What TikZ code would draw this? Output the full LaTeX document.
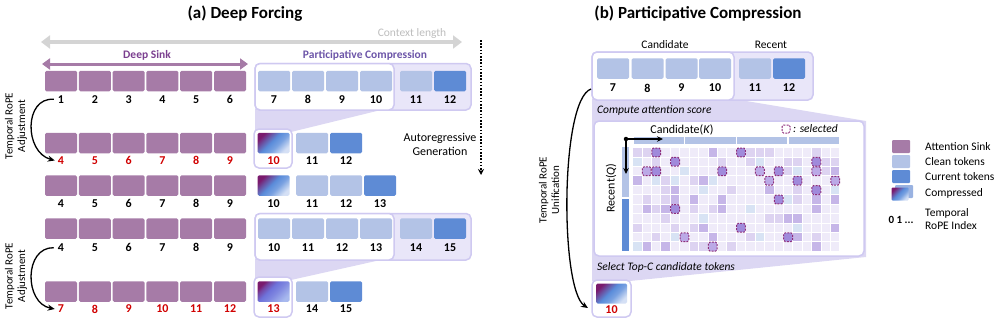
\documentclass[tikz,border=0pt]{standalone}
\usepackage{fontspec}
\setmainfont{Carlito}
\usetikzlibrary{arrows.meta,calc}
\definecolor{sinkc}{HTML}{A67BA7}
\definecolor{cleanc}{HTML}{B3C3E6}
\definecolor{currc}{HTML}{5E8BD5}
\definecolor{panelfill}{HTML}{E9E6F9}
\definecolor{panelborder}{HTML}{CFC9F1}
\definecolor{funnelc}{HTML}{DCD7F3}
\definecolor{redc}{HTML}{D00000}
\definecolor{cpurple}{HTML}{7A1A6D}
\definecolor{cblue}{HTML}{5A8CDA}
\definecolor{clight}{HTML}{D5E0F5}
\definecolor{cblue2}{HTML}{6E72DA}
\definecolor{clight2}{HTML}{A8B9EE}
\definecolor{hmbase}{HTML}{EFEBF9}
\definecolor{hmA}{HTML}{DDD3F1}
\definecolor{hmB}{HTML}{D8E3F4}
\definecolor{hmC}{HTML}{C6B6E8}
\definecolor{selfill}{HTML}{A08ADB}
\definecolor{selfilltwo}{HTML}{BBA9E6}
\definecolor{selborder}{HTML}{8E2E7C}
\definecolor{grayarr}{HTML}{D4D4D4}
\definecolor{graytxt}{HTML}{BDBDBD}
\definecolor{sinktxt}{HTML}{7B3F8F}
\definecolor{pctxt}{HTML}{6C55A8}
\pgfdeclareverticalshading{compsh}{100bp}{color(0bp)=(clight); color(25bp)=(clight); color(42bp)=(cblue!75!clight); color(54bp)=(cblue); color(66bp)=(cblue!45!cpurple); color(75bp)=(cpurple); color(100bp)=(cpurple)}
\pgfdeclareverticalshading{compshtwo}{100bp}{color(0bp)=(clight2); color(25bp)=(clight2); color(45bp)=(cblue2!70!clight2); color(57bp)=(cblue2); color(68bp)=(cblue2!50!cpurple); color(75bp)=(cpurple); color(100bp)=(cpurple)}
\begin{document}
\begin{tikzpicture}[x=1pt,y=-1pt,
  tok/.style={minimum width=32pt, minimum height=20.5pt, inner sep=0pt, rounded corners=1.5pt, draw=none},
  sink/.style={tok, fill=sinkc},
  clean/.style={tok, fill=cleanc},
  curr/.style={tok, fill=currc},
  comp/.style={tok, shading=compsh, shading angle=45},
  comptwo/.style={tok, shading=compshtwo, shading angle=45},
  num/.style={font=\fontsize{12}{13}\selectfont\bfseries, inner sep=0pt},
  rnum/.style={num, text=redc},
  txt/.style={font=\fontsize{11.5}{13.5}\selectfont, inner sep=0pt},
  lgtxt/.style={font=\fontsize{11.5}{13.5}\selectfont, inner sep=0pt, anchor=west},
  panel/.style={draw=panelborder, line width=1.5pt, fill=panelfill, rounded corners=5pt},
  wpanel/.style={draw=panelborder, line width=1.5pt, fill=white, rounded corners=5pt},
  title/.style={font=\fontsize{17}{20}\selectfont\bfseries, inner sep=0pt},
  curvearr/.style={line width=1.3pt, -{Stealth[length=7pt,width=6pt]}},
  selcell/.style={draw=selborder, dashed, dash pattern=on 2pt off 1.2pt, line width=1pt, fill=selfill, rounded corners=1.5pt},
  selcelltwo/.style={selcell, fill=selfilltwo},
  lgbox/.style={minimum width=18pt, minimum height=13pt, inner sep=0pt, rounded corners=1pt, draw=none}
]
\useasboundingbox (0,0) rectangle (996,324);

% ================= (a) Deep Forcing =================
\node[title] (ta) at (245,14) {(a) Deep Forcing};

% context length arrow
\coordinate (ctxL) at (41,42);
\coordinate (ctxR) at (462,42);
\draw[grayarr, line width=4pt, {Triangle[length=9pt,width=13pt]}-{Triangle[length=9pt,width=13pt]}] (ctxL) -- (ctxR);
\node[txt, text=graytxt] (ctxt) at (412,33) {Context length};

% deep sink arrow
\coordinate (dsL) at (42,64);
\coordinate (dsR) at (248,64);
\draw[sinkc, line width=3pt, {Triangle[length=8pt,width=11pt]}-{Triangle[length=8pt,width=11pt]}] (dsL) -- (dsR);
\node[txt, font=\fontsize{11.5}{13}\selectfont\bfseries, text=sinktxt] (dstxt) at (147,55) {Deep Sink};
\node[txt, font=\fontsize{11.5}{13}\selectfont\bfseries, text=pctxt] (pctxt) at (365,55) {Participative Compression};

% autoregressive dotted arrow
\coordinate (arT) at (481,40);
\coordinate (arB) at (481,175);
\draw[line width=1.6pt, dash pattern=on 1.6pt off 1.6pt, -{Stealth[length=6pt,width=6pt]}] (arT) -- (arB);
\node[txt, align=center, font=\fontsize{12}{14}\selectfont] (artxt) at (440,144) {Autoregressive\\Generation};

% funnels
\fill[funnelc] (255,109) -- (385,109) -- (291,132) -- (255,132) -- cycle;
\fill[funnelc] (255,259) -- (385,259) -- (291,280) -- (255,280) -- cycle;

% panels row 1 and row 4
\draw[panel] (255,63.5) rectangle (471,110);
\draw[wpanel] (255,63.5) rectangle (394,110);
\draw[panel] (255,213.5) rectangle (471,260);
\draw[wpanel] (255,213.5) rectangle (394,260);
% compressed outer boxes
\draw[wpanel] (254,129) rectangle (292,168);
\draw[wpanel] (254,277) rectangle (292,317);

% Row 1
\foreach \i/\n in {0/1,1/2,2/3,3/4,4/5,5/6}{
  \node[sink] (ra\i) at ({61+33.8*\i},81) {};
  \node[num] (na\i) at ({61+33.8*\i},99.3) {\n};
}
\foreach \x/\n in {274/7,308/8,342/9,376/10,416/11}{
  \node[clean] (ra\n) at (\x,81) {};
  \node[num] (na\n) at (\x,99.3) {\n};
}
\node[curr] (ra12) at (450,81) {};
\node[num] (na12) at (450,99.3) {12};

% Row 2
\foreach \i/\n in {0/4,1/5,2/6,3/7,4/8,5/9}{
  \node[sink] (rb\i) at ({61+33.8*\i},143) {};
  \node[rnum] (nb\i) at ({61+33.8*\i},160.5) {\n};
}
\node[comp] (rb10) at (273.5,143) {};
\node[rnum] (nb10) at (273.5,160.5) {10};
\node[clean] (rb11) at (312,143) {};
\node[num] (nb11) at (312,160.5) {11};
\node[curr] (rb12) at (346,143) {};
\node[num] (nb12) at (346,160.5) {12};

% Row 3
\foreach \i/\n in {0/4,1/5,2/6,3/7,4/8,5/9}{
  \node[sink] (rc\i) at ({61+33.8*\i},185.5) {};
  \node[num] (nc\i) at ({61+33.8*\i},203.5) {\n};
}
\node[comp] (rc10) at (273.5,185.5) {};
\node[num] (nc10) at (273.5,203.5) {10};
\node[clean] (rc11) at (312,185.5) {};
\node[num] (nc11) at (312,203.5) {11};
\node[clean] (rc12) at (346,185.5) {};
\node[num] (nc12) at (346,203.5) {12};
\node[curr] (rc13) at (380,185.5) {};
\node[num] (nc13) at (380,203.5) {13};

% Row 4
\foreach \i/\n in {0/4,1/5,2/6,3/7,4/8,5/9}{
  \node[sink] (rd\i) at ({61+33.8*\i},228.7) {};
  \node[num] (nd\i) at ({61+33.8*\i},247.7) {\n};
}
\foreach \x/\n in {274/10,308/11,342/12,376/13,416/14}{
  \node[clean] (rd\n) at (\x,228.7) {};
  \node[num] (nd\n) at (\x,247.7) {\n};
}
\node[curr] (rd15) at (450,228.7) {};
\node[num] (nd15) at (450,247.7) {15};

% Row 5
\foreach \i/\n in {0/7,1/8,2/9,3/10,4/11,5/12}{
  \node[sink] (re\i) at ({61+33.8*\i},291.5) {};
  \node[rnum] (ne\i) at ({61+33.8*\i},309) {\n};
}
\node[comptwo] (re13) at (273.5,291.5) {};
\node[rnum] (ne13) at (273.5,309) {13};
\node[clean] (re14) at (312,291.5) {};
\node[num] (ne14) at (312,309) {14};
\node[curr] (re15) at (346,291.5) {};
\node[num] (ne15) at (346,309) {15};

% Temporal RoPE Adjustment arrows
\node[txt, rotate=90, align=center, font=\fontsize{11}{12.5}\selectfont] (rope1) at (16,126) {Temporal RoPE\\Adjustment};
\node[txt, rotate=90, align=center, font=\fontsize{11}{12.5}\selectfont] (rope2) at (16,276) {Temporal RoPE\\Adjustment};
\draw[curvearr] ([xshift=-4pt]na0.west) .. controls (24,97) and (24,152) .. ([xshift=-3pt]nb0.west);
\draw[curvearr] ([xshift=-4pt]nd0.west) .. controls (24,247) and (24,303) .. ([xshift=-3pt]ne0.west);

% ================= (b) Participative Compression =================
\node[title] (tb) at (698,14) {(b) Participative Compression};
\node[txt] (candtxt) at (665,45) {Candidate};
\node[txt] (recenttxt) at (771,45) {Recent};

% big funnel region
\fill[funnelc] (592,99) -- (734,99) -- (866,121) -- (866,257) -- (630,281) -- (592,281) -- cycle;
\draw[panel] (592,52) rectangle (813,100);
\draw[wpanel] (592,52) rectangle (734,100);
\foreach \x/\n in {613/7,647.5/8,681.5/9,715/10,755/11}{
  \node[clean] (pb\n) at (\x,68.5) {};
  \node[num] (qb\n) at (\x,88) {\n};
}
\node[curr] (pb12) at (789,68.5) {};
\node[num] (qb12) at (789,88) {12};

\node[txt, font=\fontsize{11.5}{13}\selectfont\itshape, anchor=west] (cas) at (597,110) {Compute attention score};
\node[txt, font=\fontsize{11.5}{13}\selectfont\itshape, anchor=west] (stc) at (597,267) {Select Top-C candidate tokens};

% heatmap panel
\draw[wpanel] (594,121) rectangle (864,256);
% grid
\def\gx{632.7}\def\gy{147.7}\def\gs{9.42}
\fill[hmbase] (\gx,\gy) rectangle ({\gx+22*\gs},{\gy+11*\gs});
\pgfmathsetseed{11}
\foreach \r in {0,...,10}{
  \foreach \c in {0,...,21}{
    \pgfmathrandominteger{\k}{0}{11}
    \ifcase\k\relax
      \fill[hmA] ({\gx+\c*\gs},{\gy+\r*\gs}) rectangle ++(\gs,\gs);
    \or
      \fill[hmB] ({\gx+\c*\gs},{\gy+\r*\gs}) rectangle ++(\gs,\gs);
    \or
      \fill[hmC] ({\gx+\c*\gs},{\gy+\r*\gs}) rectangle ++(\gs,\gs);
    \or
      \fill[hmA] ({\gx+\c*\gs},{\gy+\r*\gs}) rectangle ++(\gs,\gs);
    \else
    \fi
  }
}
\foreach \c in {0,...,22}{
  \draw[white, line width=1pt] ({\gx+\c*\gs},\gy) -- ({\gx+\c*\gs},{\gy+11*\gs});
}
\foreach \r in {0,...,11}{
  \draw[white, line width=1pt] (\gx,{\gy+\r*\gs}) -- ({\gx+22*\gs},{\gy+\r*\gs});
}
\foreach \c/\r in {2/0,4/1,2/2,9/2,11/0,15/2,17/3,19/1,19/4,15/5,4/6,11/8,16/9}{
  \draw[selcell] ({\gx+\c*\gs+0.3},{\gy+\r*\gs+0.3}) rectangle ++({\gs-0.6},{\gs-0.6});
}
\foreach \c/\r in {1/2,13/2,14/3,19/2,21/3,5/9,8/10}{
  \draw[selcelltwo] ({\gx+\c*\gs+0.3},{\gy+\r*\gs+0.3}) rectangle ++({\gs-0.6},{\gs-0.6});
}
% top bars
\foreach \j in {0,1,2,3}{
  \fill[cleanc] ({\gx+\j*5.5*\gs+0.8},137) rectangle ({\gx+(\j+1)*5.5*\gs-0.8},144);
}
% left bars
\fill[cleanc] (622,146.5) rectangle (629,197);
\fill[currc] (622,199) rectangle (629,251);
% axes
\node[circle, fill=black, inner sep=0pt, minimum size=4.5pt] (orig) at (626,139) {};
\coordinate (axR) at (663,139);
\coordinate (axD) at (626,174);
\draw[line width=1.4pt, -{Stealth[length=6pt,width=5.5pt]}] (orig.center) -- (axR);
\draw[line width=1.4pt, -{Stealth[length=6pt,width=5.5pt]}] (orig.center) -- (axD);
\node[txt, font=\fontsize{12}{13}\selectfont] (candK) at (682,130) {Candidate(\textit{K})};
\node[txt, rotate=90, font=\fontsize{12}{13}\selectfont] (recQ) at (611,188) {Recent(\textit{Q})};
\node[draw=selborder, dashed, dash pattern=on 2pt off 1.2pt, line width=1pt, fill=white, rounded corners=1.5pt, minimum size=8pt, inner sep=0pt] (selleg) at (786,129) {};
\node[txt, font=\fontsize{11.5}{13}\selectfont\itshape, anchor=west] (seltxt) at (793,129) {: selected};

% compressed result
\draw[wpanel] (592,280) rectangle (631,317);
\node[comp, minimum width=31pt, minimum height=20pt] (cb10) at (611.5,293.5) {};
\node[rnum] (qc10) at (611.5,310) {10};

% Unification arrow
\node[txt, rotate=90, align=center, font=\fontsize{11}{12.5}\selectfont] (unif) at (549,190) {Temporal RoPE\\Unification};
\coordinate (uS) at (591,89);
\coordinate (uE) at (588,308);
\draw[curvearr] (uS) .. controls (560,100) and (560,290) .. (uE);

% ================= Legend =================
\node[lgbox, fill=sinkc] (lg1) at (901,146.5) {};
\node[lgtxt] (lt1) at (925,147) {Attention Sink};
\node[lgbox, fill=cleanc] (lg2) at (901,161.5) {};
\node[lgtxt] (lt2) at (925,161.5) {Clean tokens};
\node[lgbox, fill=currc] (lg3) at (901,176.5) {};
\node[lgtxt] (lt3) at (925,177) {Current tokens};
\node[lgbox, fill=cleanc!70!currc] (lg4b) at (904,191.5) {};
\node[lgbox, shading=compsh, shading angle=45, minimum width=17pt] (lg4) at (900,194) {};
\node[lgtxt] (lt4) at (925,193) {Compressed};
\node[num, font=\fontsize{11}{12}\selectfont\bfseries] (lg5) at (901,220) {0 1 ...};
\node[lgtxt, align=left] (lt5) at (925,219) {Temporal\\RoPE Index};
\end{tikzpicture}
\end{document}
